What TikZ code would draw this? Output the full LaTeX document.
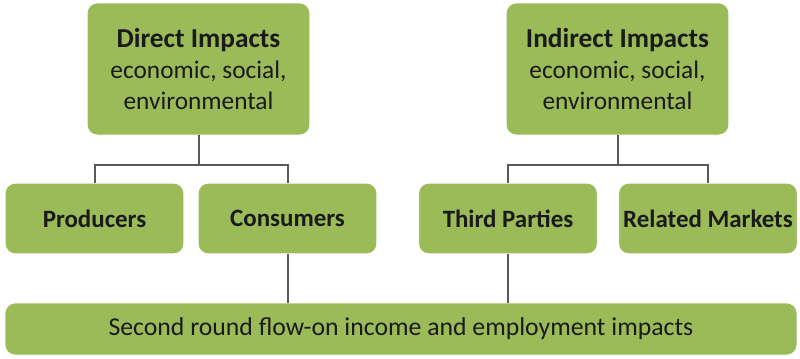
\documentclass[tikz,border=0pt]{standalone}
\usepackage{fontspec}
\setmainfont{Carlito}
\usepackage{xcolor}
\usetikzlibrary{positioning, calc}

\definecolor{leafgreen}{HTML}{9BBB59}
\definecolor{linkgray}{HTML}{595959}
\definecolor{inktext}{HTML}{1A1A1A}

\begin{document}
\begin{tikzpicture}[ x = 0.75pt, y = -0.75pt
                     , align = center
                     , text = inktext
                     , every node/.style = { rectangle
                                         , rounded corners = 7.5pt
                                         , fill = leafgreen
                                         , draw = white
                                         , line width = 0.6pt
                                         , inner sep = 0pt }
                     , headbox/.style = { minimum width = 167pt
                                        , minimum height = 99pt
                                        , font = \fontsize{19}{23}\selectfont }
                     , groupbox/.style = { minimum width = 134pt
                                         , minimum height = 53pt
                                         , font = \fontsize{18.7}{22}\selectfont\bfseries }
                     , roundbox/.style = { minimum width = 594pt
                                         , minimum height = 39pt
                                         , font = \fontsize{19.3}{22}\selectfont }
                     , link/.style = { draw = linkgray, line width = 1.5pt }
                     ]

  \useasboundingbox (0,0) rectangle (800,358);

  % top level
  \node (direct) [headbox] at (198.5,69)
    {{\fontsize{20.5}{23}\selectfont\bfseries Direct Impacts}\\economic, social,\\environmental};
  \node (indirect) [headbox] at (617.5,69)
    {{\fontsize{20.5}{23}\selectfont\bfseries Indirect Impacts}\\economic, social,\\environmental};

  % who is affected
  \node (producers) [groupbox] at (94.5,218.5) {Producers};
  \node (consumers) [groupbox] at (287.5,218.5) {Consumers};
  \node (thirdparty) [groupbox] at (508,218.5) {Third Parties};
  \node (related) [groupbox] at (708,218.5) {Related Markets};

  % flow-on effects
  \node (secondround) [roundbox] at (401,329)
    {Second round flow-on income and employment impacts};

  \draw[link] (direct.south) -- ++(0,30) coordinate (directfork);
  \draw[link] (directfork) -| (producers.north);
  \draw[link] (directfork) -| (consumers.north);

  \draw[link] (indirect.south) -- ++(0,30) coordinate (indirectfork);
  \draw[link] (indirectfork) -| (thirdparty.north);
  \draw[link] (indirectfork) -| (related.north);

  \draw[link] (consumers.south) -- (consumers.south |- secondround.north);
  \draw[link] (thirdparty.south) -- (thirdparty.south |- secondround.north);

\end{tikzpicture}
\end{document}
